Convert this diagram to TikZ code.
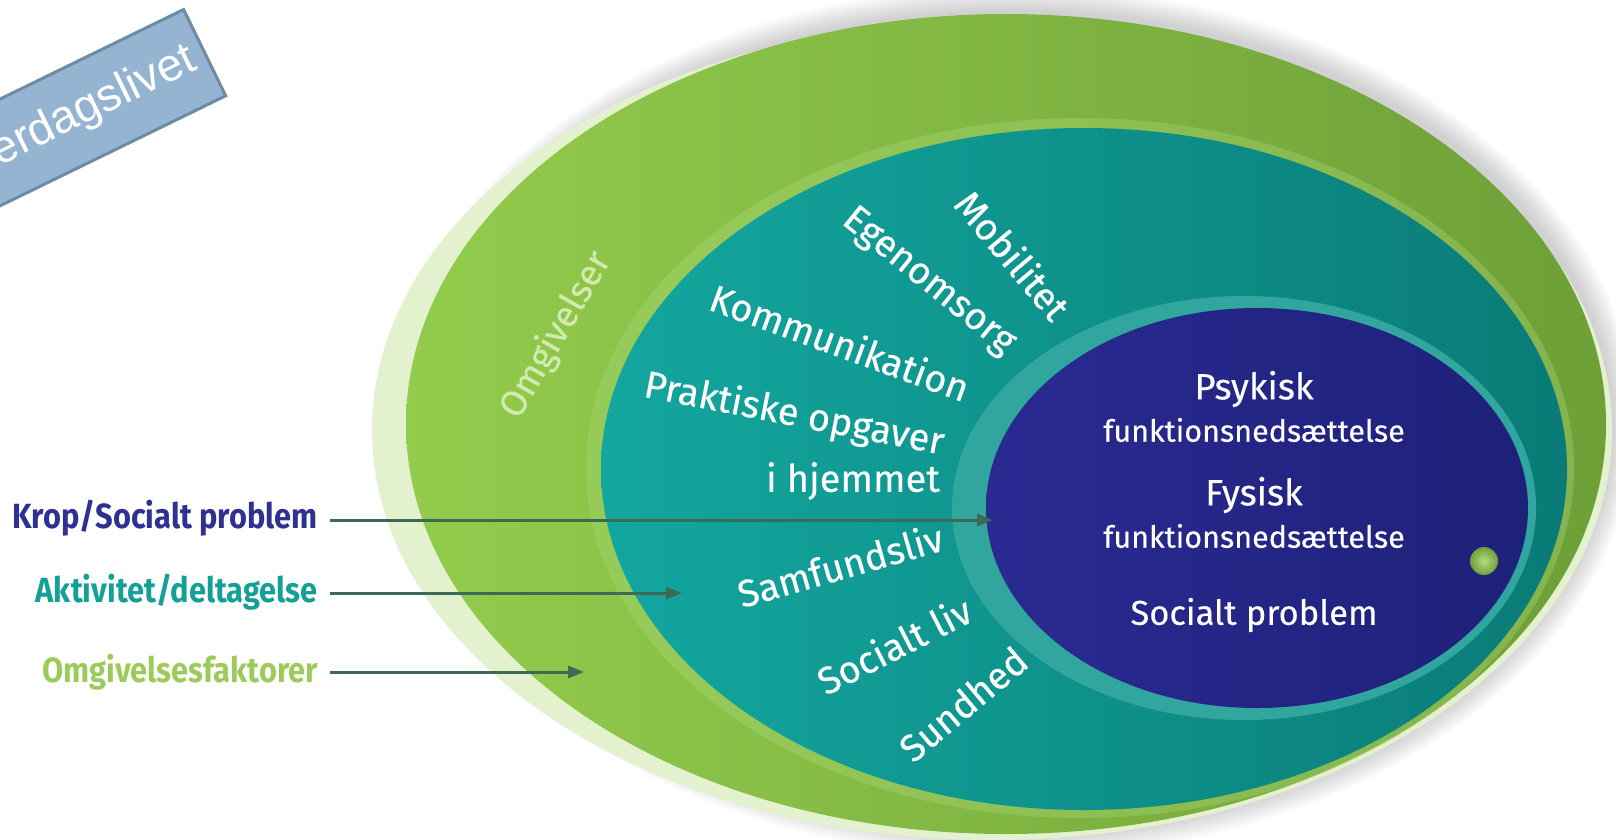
\documentclass[tikz,border=0pt]{standalone}
\usepackage{fontspec}
\newfontfamily\fira[FakeBold=0.3]{Fira Sans}
\newfontfamily\firac[FakeStretch=0.88]{Fira Sans}
\newfontfamily\arialf{Liberation Sans}
\usetikzlibrary{arrows.meta}
\definecolor{gLight}{HTML}{92CC4C}
\definecolor{gDark}{HTML}{6E9F38}
\definecolor{gPale}{HTML}{E4F1CF}
\definecolor{tLight}{HTML}{13A79F}
\definecolor{tDark}{HTML}{0A7B77}
\definecolor{tRing}{HTML}{31A69E}
\definecolor{bLight}{HTML}{2A2A92}
\definecolor{bDark}{HTML}{1E2179}
\definecolor{navy}{HTML}{2E3192}
\definecolor{tealtxt}{HTML}{14A096}
\definecolor{greentxt}{HTML}{9CCB5B}
\definecolor{arrowc}{HTML}{3C6A55}
\definecolor{boxfill}{HTML}{94B4D2}
\definecolor{boxdraw}{HTML}{6D8CA4}
\definecolor{omgtxt}{HTML}{D2EAAE}
\tikzset{
  legend/.style={anchor=east, inner sep=0pt, font=\firac\bfseries\fontsize{35}{35}\selectfont},
  conn/.style={draw=arrowc, line width=3pt, -{Triangle[length=16pt,width=12pt]}},
  tlabel/.style={text=white, inner sep=0pt, font=\fira\fontsize{38}{38}\selectfont},
  blabel/.style={text=white, inner sep=0pt, align=center}
}
\begin{document}
\begin{tikzpicture}[x=1pt,y=-1pt]
\useasboundingbox (0,0) rectangle (1616,840);
% soft shadow
\foreach \i in {1,...,10}
  \fill[black,opacity=0.018] (1012,422) ellipse [x radius={(598+2.5*\i)*1pt}, y radius={(410+2.5*\i)*1pt}];
% pale rim
\fill[gPale] (992,430) ellipse [x radius=620pt, y radius=410pt];
% green
\path[left color=gLight, right color=gDark] (1006,424) ellipse [x radius=600pt, y radius=410pt];
% lighter band outside teal
\fill[gLight!75!white, opacity=0.35] (1080,468) ellipse [x radius=494pt, y radius=350pt];
% teal
\path[left color=tLight, right color=tDark] (1084,469) ellipse [x radius=483pt, y radius=341pt];
% ring around blue
\fill[tRing] (1244,508) ellipse [x radius=292pt, y radius=212pt];
% blue
\path[left color=bLight, right color=bDark] (1257,508) ellipse [x radius=271pt, y radius=200pt];
% green dot
\shade[inner color=gLight!70!white, outer color=gDark] (1484,561) circle [radius=14pt];

% texts in blue
\node[blabel, font=\fira\fontsize{36.5}{36.5}\selectfont] (psy) at (1254,389) {Psykisk};
\node[blabel, font=\fira\fontsize{30.5}{30.5}\selectfont] (fn1) at (1254,430) {funktionsnedsættelse};
\node[blabel, font=\fira\fontsize{36.5}{36.5}\selectfont] (fys) at (1254,495) {Fysisk};
\node[blabel, font=\fira\fontsize{30.5}{30.5}\selectfont] (fn2) at (1254,536) {funktionsnedsættelse};
\node[blabel, font=\fira\fontsize{34.5}{34.5}\selectfont] (soc) at (1254,615) {Socialt problem};

% texts in teal
\node[tlabel, rotate=-50] (mob) at (1013,255) {Mobilitet};
\node[tlabel, rotate=-39] (ego) at (928,282) {Egenomsorg};
\node[tlabel, rotate=-20] (kom) at (840,342) {Kommunikation};
\node[tlabel, rotate=-11] (pra) at (794,415) {Praktiske opgaver};
\node[tlabel] (hje) at (853,481) {i hjemmet};
\node[tlabel, rotate=16] (sam) at (840,565) {Samfundsliv};
\node[tlabel, rotate=27] (sli) at (894,645) {Socialt liv};
\node[tlabel, rotate=40] (sun) at (963,704) {Sundhed};
% text in green
\node[tlabel, text=omgtxt, rotate=60, font=\fira\fontsize{36.5}{36.5}\selectfont] (omg) at (556,335) {Omgivelser};

% legend
\node[legend, text=navy] (krop) at (318,518) {Krop/Socialt problem};
\node[legend, text=tealtxt] (akt) at (318,592) {Aktivitet/deltagelse};
\node[legend, text=greentxt] (omf) at (318,672) {Omgivelsesfaktorer};
\coordinate (e1) at (993,520);
\coordinate (e2) at (682,593);
\coordinate (e3) at (584,672);
\draw[conn] ([xshift=12pt]krop.east |- e1) -- (e1);
\draw[conn] ([xshift=12pt]akt.east |- e2) -- (e2);
\draw[conn] ([xshift=12pt]omf.east |- e3) -- (e3);

% top-left box
\node[draw=boxdraw, line width=3pt, fill=boxfill, text=white,
      font=\arialf\fontsize{46}{46}\selectfont, rotate=26, anchor=east,
      inner xsep=12pt, minimum height=96pt] (hv) at (206,52) {Hverdagslivet};
\end{tikzpicture}
\end{document}
